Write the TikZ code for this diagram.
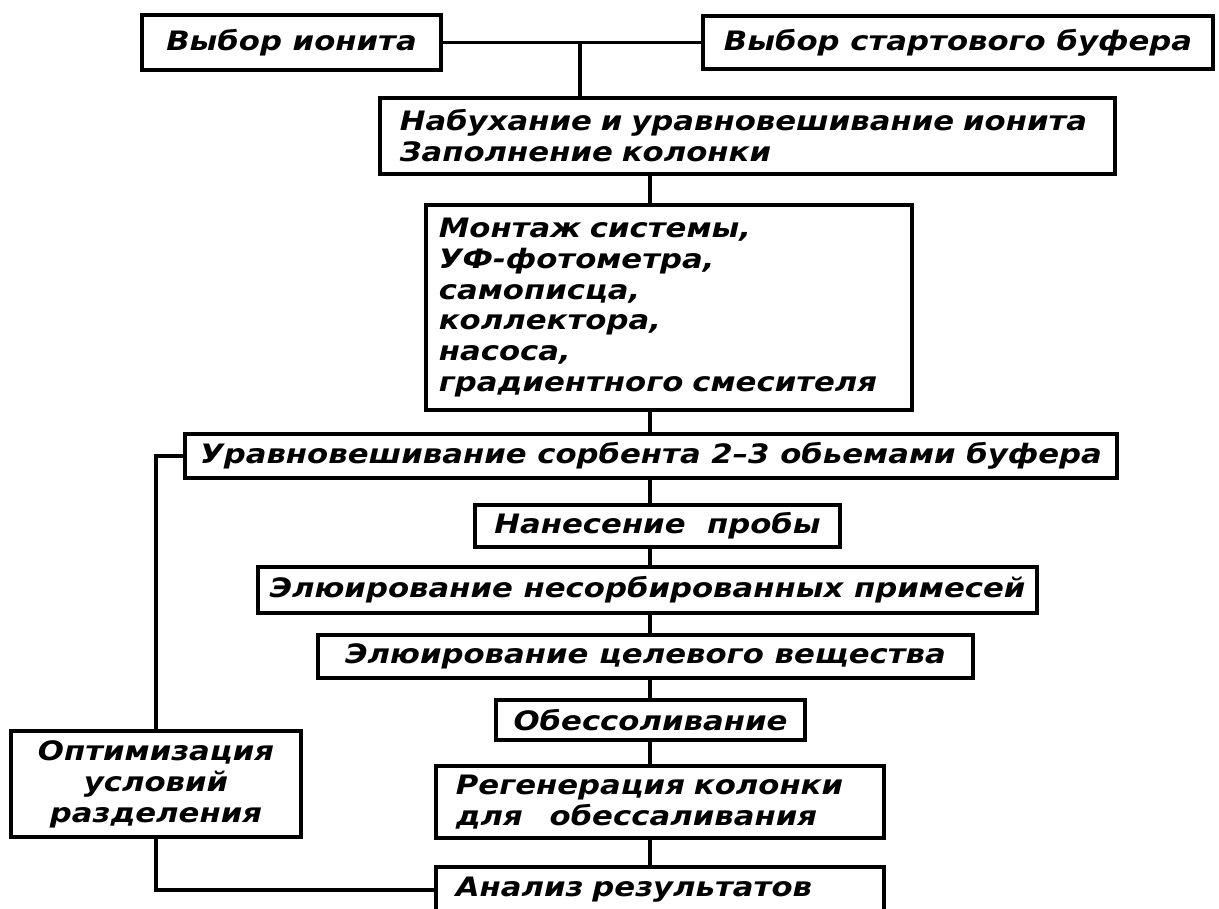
\documentclass[tikz,border=0pt]{standalone}
\usepackage{fontspec}
\newfontfamily\stencil[FakeStretch=1.15]{DejaVu Sans}
\usepackage{tikz}
\usetikzlibrary{positioning, calc}

\begin{document}
\begin{tikzpicture}[
    x=0.01cm, y=-0.01cm,
    stage/.style={rectangle, draw=black, line width=1.1pt, inner sep=0pt,
                  align=center, font=\stencil\bfseries\itshape\fontsize{7.6}{8.8}\selectfont},
    block/.style={stage, align=left, inner xsep=0.2cm},
    link/.style={draw=black, line width=0.9pt}
]
\clip (0,0) rectangle (1219,908);
% top row: choice of exchanger and start buffer
\node[stage, minimum width=2.99cm, minimum height=0.55cm] (b1) at (291.5,42.5) {Выбор ионита};
\node[stage, minimum width=5.10cm, minimum height=0.53cm] (b2) at (958,42.5) {Выбор стартового буфера};
% preparation blocks
\node[block, text width=6.95cm, minimum height=0.76cm] (b3) at (747.5,136)
    {Набухание и уравновешивание ионита\\Заполнение колонки};
\node[block, inner xsep=0.13cm, text width=4.6cm, minimum height=2.05cm] (b4) at (669,307.5)
    {Монтаж системы,\\УФ-фотометра,\\самописца,\\коллектора,\\насоса,\\градиентного смесителя};
% main chain, one box under the other
\node[stage, minimum width=9.32cm, minimum height=0.44cm] (b5) at (651,456)
    {Уравновешивание сорбента 2–3 обьемами буфера};
\node[stage, minimum width=3.65cm, minimum height=0.42cm] (b6) at (657.5,526) {Нанесение~~пробы};
\node[stage, minimum width=7.79cm, minimum height=0.46cm] (b7) at (647.5,590)
    {Элюирование несорбированных примесей};
\node[stage, minimum width=6.55cm, minimum height=0.43cm] (b8) at (645.5,656.5)
    {Элюирование целевого вещества};
\node[stage, minimum width=3.09cm, minimum height=0.40cm] (b9) at (650.5,720) {Обессоливание};
\node[block, text width=4.08cm, minimum height=0.72cm] (b10) at (660,802)
    {Регенерация колонки\\для~~~обессаливания};
\node[block, text width=4.08cm, minimum height=0.46cm] (b11) at (660,890) {Анализ результатов};
% feedback box on the left
\node[stage, minimum width=2.90cm, minimum height=1.06cm] (b12) at (156,784)
    {Оптимизация\\условий\\разделения};
% connectors
\coordinate (join) at (580,42.5);
\coordinate (spine) at (650,0);
\draw[link] (b1.east) -- (b2.west);
\draw[link] (join) -- (join |- b3.north);
\foreach \a/\b in {b3/b4, b4/b5, b5/b6, b6/b7, b7/b8, b8/b9, b9/b10, b10/b11}
    \draw[link] (\a.south -| spine) -- (\b.north -| spine);
\draw[link] (b11.west) -| (b12.south);
\draw[link] (b12.north) |- (b5.west);
\end{tikzpicture}
\end{document}
